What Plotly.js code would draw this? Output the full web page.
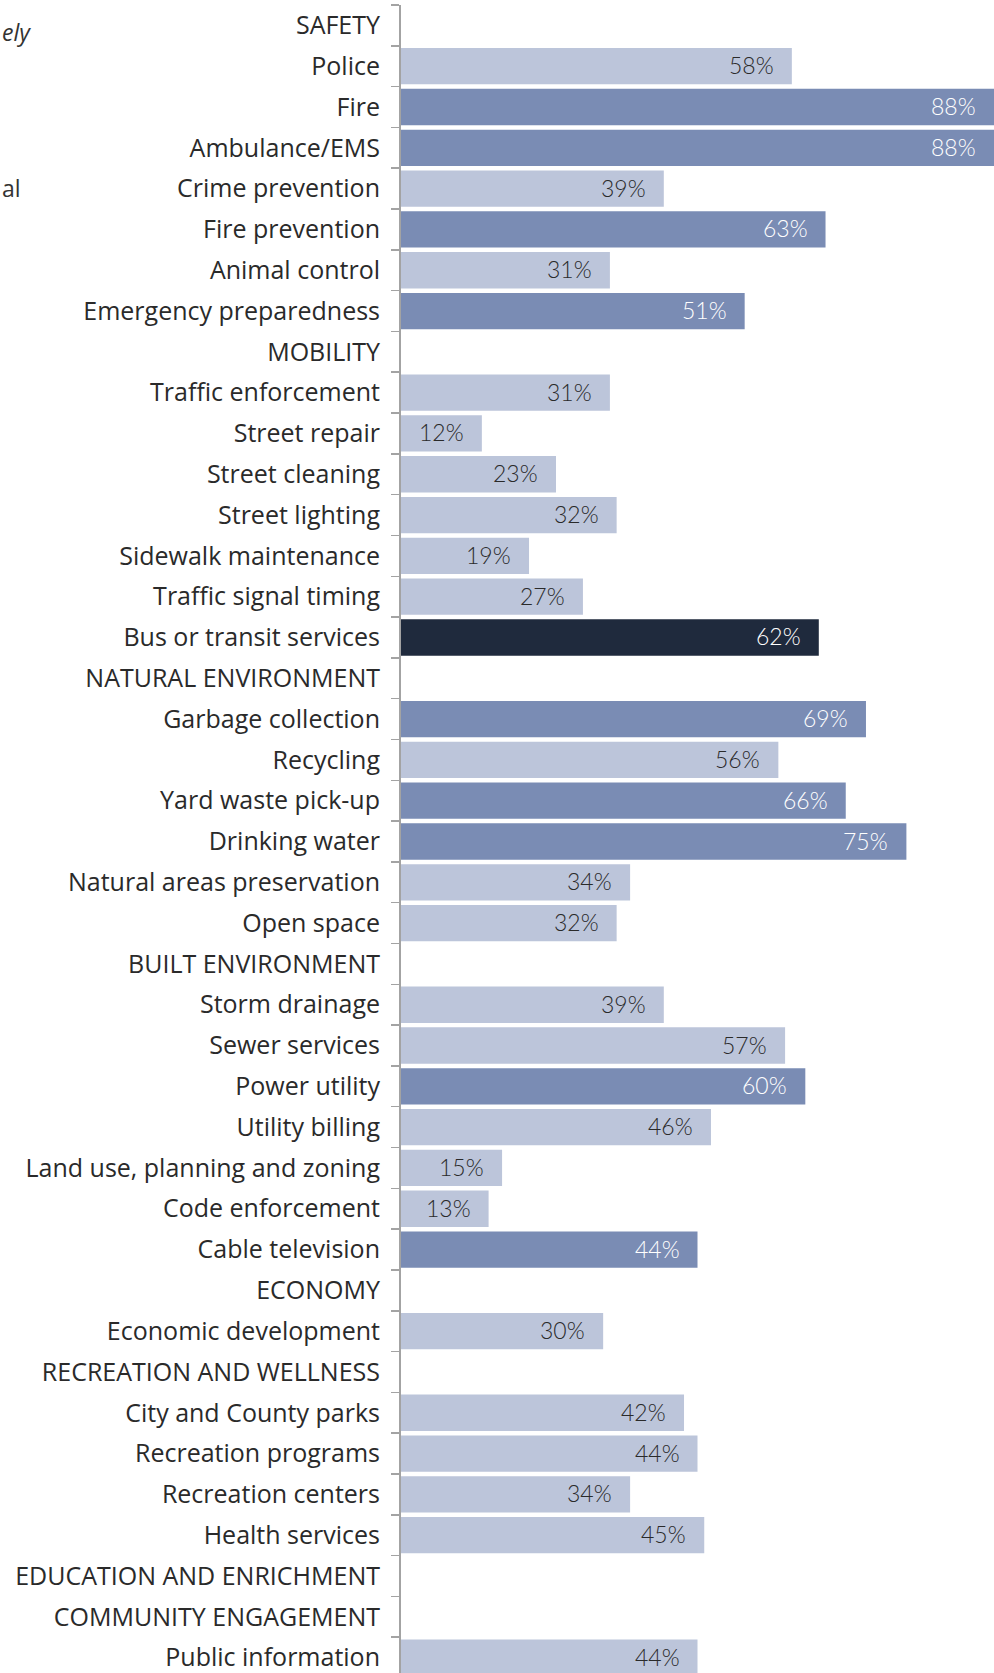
<!DOCTYPE html>
<html>
<head>
<meta charset="utf-8">
<script src="https://cdn.plot.ly/plotly-3.0.1.min.js"></script>
<style>
html, body { margin: 0; padding: 0; overflow: hidden; background: #ffffff; }
</style>
</head>
<body>
<div id="chart" style="width:994px;height:1678px;"></div>
<script>
// ---- data ----
const categories = [
  "SAFETY", "Police", "Fire", "Ambulance/EMS", "Crime prevention", "Fire prevention",
  "Animal control", "Emergency preparedness",
  "MOBILITY", "Traffic enforcement", "Street repair", "Street cleaning", "Street lighting",
  "Sidewalk maintenance", "Traffic signal timing", "Bus or transit services",
  "NATURAL ENVIRONMENT", "Garbage collection", "Recycling", "Yard waste pick-up",
  "Drinking water", "Natural areas preservation", "Open space",
  "BUILT ENVIRONMENT", "Storm drainage", "Sewer services", "Power utility", "Utility billing",
  "Land use, planning and zoning", "Code enforcement", "Cable television",
  "ECONOMY", "Economic development",
  "RECREATION AND WELLNESS", "City and County parks", "Recreation programs",
  "Recreation centers", "Health services",
  "EDUCATION AND ENRICHMENT",
  "COMMUNITY ENGAGEMENT", "Public information"
];
const values = [
  null, 58, 88, 88, 39, 63, 31, 51,
  null, 31, 12, 23, 32, 19, 27, 62,
  null, 69, 56, 66, 75, 34, 32,
  null, 39, 57, 60, 46, 15, 13, 44,
  null, 30,
  null, 42, 44, 34, 45,
  null,
  null, 44
];
// comparison group of each row: "similar", "higher", "highlight" (null for section headers)
const comparison = [
  null, "similar", "higher", "higher", "similar", "higher", "similar", "higher",
  null, "similar", "similar", "similar", "similar", "similar", "similar", "highlight",
  null, "higher", "similar", "higher", "higher", "similar", "similar",
  null, "similar", "similar", "higher", "similar", "similar", "similar", "higher",
  null, "similar",
  null, "similar", "similar", "similar", "similar",
  null,
  null, "similar"
];
const legendFragments = ["ely", "al"];

// ---- styles ----
const fillColors = { similar: "#BCC5DA", higher: "#7A8CB4", highlight: "#1F2A3D" };
const textColors = { similar: "#2a2a2a", higher: "#ffffff", highlight: "#ffffff" };
const labelFont = "'Open Sans', Roboto, sans-serif";

const barColors = comparison.map(c => c ? fillColors[c] : "rgba(0,0,0,0)");

const trace = {
  type: "bar",
  orientation: "h",
  y: categories,
  x: values,
  marker: { color: barColors, line: { width: 0 } },
  hoverinfo: "skip",
  showlegend: false
};

const annotations = [];
values.forEach((v, i) => {
  if (v === null) return;
  annotations.push({
    x: v, y: categories[i], xref: "x", yref: "y",
    text: v + "%", showarrow: false,
    xanchor: "right", yanchor: "middle", xshift: -16, yshift: 1,
    font: { family: "Lato, 'Open Sans', sans-serif", size: 23, weight: 300, color: textColors[comparison[i]] }
  });
});
annotations.push({
  xref: "paper", yref: "paper", x: -401/593, y: 1 - (32 - 5) / 1673,
  text: "<i>" + legendFragments[0] + "</i>", showarrow: false,
  xanchor: "left", yanchor: "middle", xshift: 0,
  font: { family: labelFont, size: 23, color: "#333333" }
});
annotations.push({
  xref: "paper", yref: "paper", x: -401/593, y: 1 - (188 - 5) / 1673,
  text: legendFragments[1], showarrow: false,
  xanchor: "left", yanchor: "middle", xshift: 0,
  font: { family: labelFont, size: 23, color: "#333333" }
});

const layout = {
  width: 994,
  height: 1678,
  margin: { l: 401, r: 0, t: 5, b: 0, pad: 0 },
  paper_bgcolor: "#ffffff",
  plot_bgcolor: "#ffffff",
  bargap: 0.11,
  showlegend: false,
  xaxis: {
    range: [0, 88],
    visible: false,
    fixedrange: true
  },
  yaxis: {
    type: "category",
    categoryorder: "array",
    categoryarray: categories,
    range: [categories.length - 0.5, -0.5],
    showgrid: false,
    zeroline: false,
    showline: true,
    linecolor: "#a3a3a3",
    linewidth: 2,
    ticks: "outside",
    tickson: "boundaries",
    ticklen: 8,
    tickwidth: 1.5,
    tickcolor: "#a3a3a3",
    ticklabelstandoff: 14,
    tickfont: { family: labelFont, size: 25, color: "#2a2a2a" },
    fixedrange: true
  },
  annotations: annotations
};

Plotly.newPlot("chart", [trace], layout, { displayModeBar: false, staticPlot: true });
</script>
</body>
</html>
